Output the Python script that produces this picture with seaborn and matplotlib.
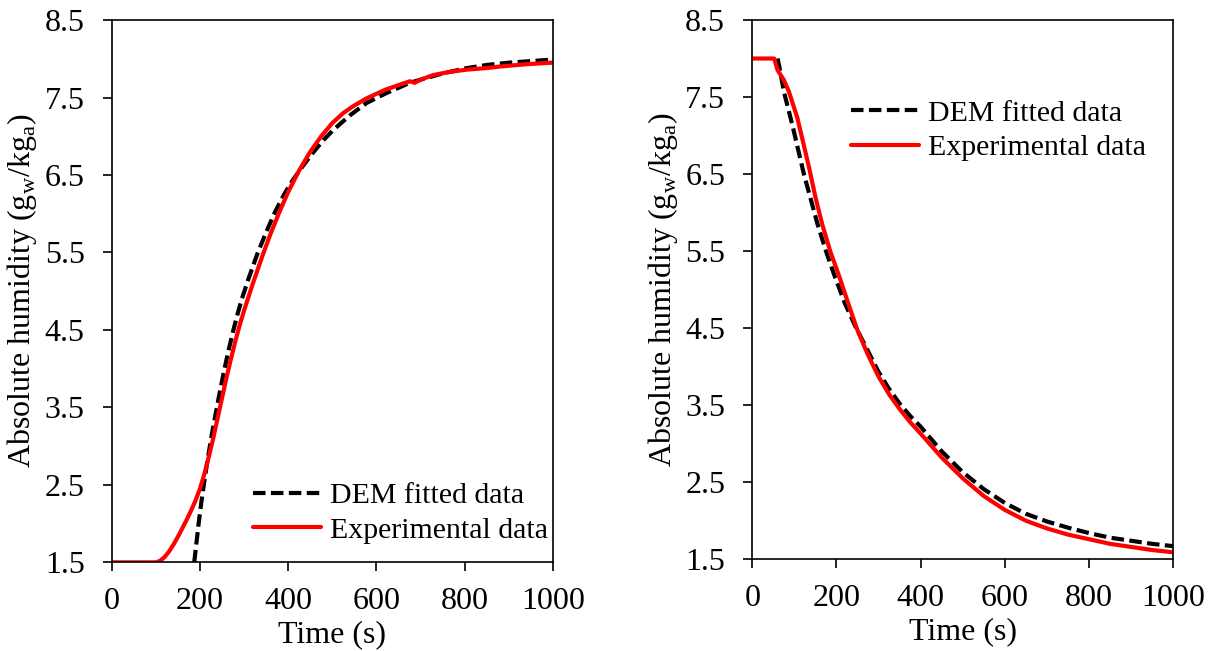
import matplotlib
matplotlib.use('Agg')
import matplotlib.pyplot as plt
import numpy as np
import seaborn as sns

# left panel: humidity rise
t_dem_up = [187, 192, 197, 203, 210, 218, 226, 235, 245, 255, 265, 275, 285, 295, 310, 330, 350, 370,
            390, 410, 430, 455, 480, 502, 540, 578, 620, 676, 700, 750, 805, 850, 900, 1000]
h_dem_up = [1.5, 1.75, 2.0, 2.27, 2.55, 2.85, 3.12, 3.4, 3.7, 3.98, 4.24, 4.48, 4.7, 4.9, 5.16, 5.48, 5.76, 6.02,
            6.24, 6.43, 6.59, 6.78, 6.95, 7.08, 7.27, 7.43, 7.55, 7.69, 7.73, 7.81, 7.88, 7.92, 7.95, 7.99]
t_exp_up = [0, 100, 110, 120, 130, 140, 150, 160, 170, 180, 190, 200, 210, 220, 230, 240, 250, 260, 270,
            280, 290, 300, 320, 340, 360, 380, 400, 425, 450, 475, 500, 525, 548, 578, 620, 660, 676, 687,
            700, 729, 765, 805, 850, 880, 940, 1000]
h_exp_up = [1.5, 1.5, 1.52, 1.57, 1.64, 1.73, 1.83, 1.94, 2.05, 2.17, 2.3, 2.45, 2.64, 2.86, 3.1, 3.36, 3.62, 3.88, 4.12,
            4.35, 4.56, 4.75, 5.1, 5.43, 5.74, 6.02, 6.28, 6.56, 6.8, 7.0, 7.17, 7.3, 7.39, 7.49, 7.6, 7.68, 7.71, 7.69,
            7.73, 7.79, 7.83, 7.86, 7.88, 7.9, 7.93, 7.95]

# right panel: humidity decay
t_dem_down = [60, 64, 75, 95, 123, 155, 175, 194, 220, 246, 275, 300, 325, 350, 375, 400,
              450, 500, 550, 600, 650, 700, 750, 800, 850, 900, 950, 1000]
h_dem_down = [8.0, 7.9, 7.57, 7.14, 6.49, 5.85, 5.5, 5.2, 4.82, 4.51, 4.2, 3.93, 3.71, 3.52, 3.36, 3.22,
              2.9, 2.63, 2.41, 2.23, 2.09, 1.99, 1.91, 1.84, 1.78, 1.74, 1.7, 1.67]
t_exp_down = [0, 52, 60, 75, 87, 107, 120, 135, 150, 166, 185, 206, 228, 250, 275, 300, 325, 350, 375,
              400, 450, 500, 550, 600, 650, 700, 750, 800, 850, 900, 950, 1000]
h_exp_down = [8.0, 8.0, 7.85, 7.72, 7.57, 7.23, 6.93, 6.58, 6.2, 5.85, 5.5, 5.18, 4.82, 4.47, 4.15, 3.87, 3.64, 3.45, 3.28,
              3.13, 2.82, 2.55, 2.32, 2.14, 2.0, 1.9, 1.82, 1.76, 1.7, 1.66, 1.62, 1.59]

x_ticks = [0, 200, 400, 600, 800, 1000]
y_ticks = [1.5, 2.5, 3.5, 4.5, 5.5, 6.5, 7.5, 8.5]

sns.set_style('ticks')
plt.rcParams['font.family'] = ['Liberation Serif', 'DejaVu Serif']
plt.rcParams['mathtext.fontset'] = 'custom'
plt.rcParams['mathtext.rm'] = 'Liberation Serif'
plt.rcParams['text.color'] = 'black'
plt.rcParams['axes.labelcolor'] = 'black'

fs = 23
fig = plt.figure(figsize=(12.12, 6.51), dpi=100)
ax1 = fig.add_axes([0.0922, 0.1362, 0.3639, 0.8330])
ax2 = fig.add_axes([0.6207, 0.1409, 0.3474, 0.8284])

panels = [
    (ax1, t_dem_up, h_dem_up, t_exp_up, h_exp_up, (0.3197, 0.0909)),
    (ax2, t_dem_down, h_dem_down, t_exp_down, h_exp_down, (0.2333, 0.795)),
]

for ax, td, hd, te, he, leg_pos in panels:
    sns.lineplot(x=td, y=hd, ax=ax, color='black', linewidth=3,
                 linestyle=(0, (3, 1.3)), label='DEM fitted data')
    sns.lineplot(x=te, y=he, ax=ax, color='#ff0000', linewidth=3,
                 label='Experimental data')
    ax.set_xlim(0, 1000)
    ax.set_ylim(1.5, 8.5)
    ax.set_xticks(x_ticks)
    ax.set_yticks(y_ticks)
    ax.set_yticklabels([f'{v:.1f}' for v in y_ticks])
    for s in ax.spines.values():
        s.set_visible(True)
        s.set_linewidth(1.2)
        s.set_color('black')
    ax.tick_params(axis='both', direction='out', length=6.5, width=1.2,
                   labelsize=fs, colors='black')
    ax.tick_params(axis='x', pad=11)
    ax.tick_params(axis='y', pad=13)
    ax.set_xlabel('Time (s)', fontsize=fs, labelpad=3)
    ax.set_ylabel(r'Absolute humidity (g$_\mathregular{w}$/kg$_\mathregular{a}$)',
                  fontsize=fs, labelpad=4)
    ax.legend(loc='center left', bbox_to_anchor=leg_pos, frameon=False,
              fontsize=21.5, handlelength=2.3, handletextpad=0.3,
              labelspacing=0.25, borderpad=0, borderaxespad=0)

fig.savefig('out.png', dpi=100)
